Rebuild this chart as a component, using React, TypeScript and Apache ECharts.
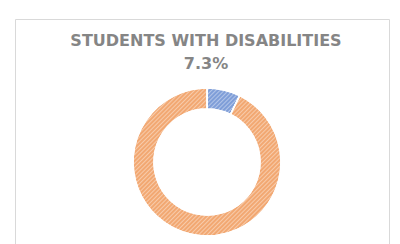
import React, { useEffect, useRef } from "react";
import * as echarts from "echarts";

const titleLines = ["STUDENTS WITH DISABILITIES", "7.3%"];
const categories = ["Students with disabilities", "Other students"];
const values = [7.3, 92.7];
const colors = ["#7f9ed8", "#f2a872"];

export default function App() {
  const ref = useRef<HTMLDivElement>(null);
  useEffect(() => {
    document.body.style.margin = "0";
    const chart = echarts.init(ref.current!, undefined, { renderer: "svg" });
    const decal = {
      symbol: "rect",
      symbolSize: 1,
      color: "rgba(255,255,255,0.4)",
      dashArrayX: [1, 0],
      dashArrayY: [1, 2],
      rotation: -Math.PI / 4,
    };
    chart.setOption({
      animation: false,
      backgroundColor: "#ffffff",
      title: {
        text: titleLines.join("\n"),
        left: 201,
        textAlign: "center",
        top: 24,
        textStyle: {
          fontFamily: "DejaVu Sans",
          fontSize: 16,
          fontWeight: "bold",
          color: "#858585",
          lineHeight: 23,
        },
      },
      graphic: [
        {
          type: "rect",
          shape: { x: 15.5, y: 19.5, width: 374, height: 240 },
          style: { fill: "none", stroke: "#d9d9d9", lineWidth: 1 },
          silent: true,
        },
      ],
      series: [
        {
          type: "pie",
          center: [207, 162],
          radius: [53, 74],
          startAngle: 90,
          clockwise: true,
          label: { show: false },
          labelLine: { show: false },
          emphasis: { disabled: true },
          itemStyle: { borderColor: "#ffffff", borderWidth: 1.5 },
          data: categories.map((name, i) => ({
            name,
            value: values[i],
            itemStyle: { color: colors[i], decal },
          })),
        },
      ],
    });
    return () => chart.dispose();
  }, []);
  return <div ref={ref} style={{ position: "fixed", left: 0, top: 0, width: 400, height: 244 }} />;
}
